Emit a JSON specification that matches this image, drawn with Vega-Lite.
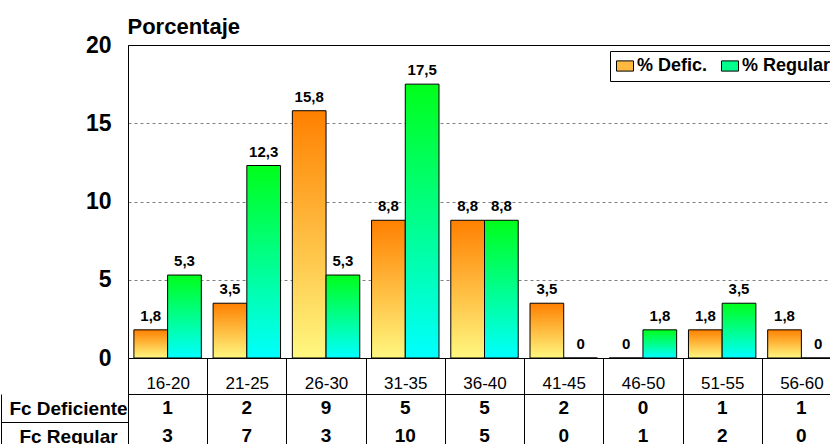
{
  "$schema": "https://vega.github.io/schema/vega-lite/v6.json",
  "background": "white",
  "padding": {"left": 0, "top": 14, "right": 0, "bottom": 0},
  "spacing": 36,
  "bounds": "flush",
  "config": {
    "font": "Liberation Sans",
    "locale": {"number": {"decimal": ",", "thousands": ".", "grouping": [3], "currency": ["", " €"]}},
    "view": {"stroke": "#000", "strokeWidth": 1}
  },
  "data": {
    "values": [
      {"edad": "16-20", "serie": "% Defic.", "fila": "Fc Deficiente", "pct": 1.8, "fc": 1},
      {"edad": "16-20", "serie": "% Regular", "fila": "Fc Regular", "pct": 5.3, "fc": 3},
      {"edad": "21-25", "serie": "% Defic.", "fila": "Fc Deficiente", "pct": 3.5, "fc": 2},
      {"edad": "21-25", "serie": "% Regular", "fila": "Fc Regular", "pct": 12.3, "fc": 7},
      {"edad": "26-30", "serie": "% Defic.", "fila": "Fc Deficiente", "pct": 15.8, "fc": 9},
      {"edad": "26-30", "serie": "% Regular", "fila": "Fc Regular", "pct": 5.3, "fc": 3},
      {"edad": "31-35", "serie": "% Defic.", "fila": "Fc Deficiente", "pct": 8.8, "fc": 5},
      {"edad": "31-35", "serie": "% Regular", "fila": "Fc Regular", "pct": 17.5, "fc": 10},
      {"edad": "36-40", "serie": "% Defic.", "fila": "Fc Deficiente", "pct": 8.8, "fc": 5},
      {"edad": "36-40", "serie": "% Regular", "fila": "Fc Regular", "pct": 8.8, "fc": 5},
      {"edad": "41-45", "serie": "% Defic.", "fila": "Fc Deficiente", "pct": 3.5, "fc": 2},
      {"edad": "41-45", "serie": "% Regular", "fila": "Fc Regular", "pct": 0, "fc": 0},
      {"edad": "46-50", "serie": "% Defic.", "fila": "Fc Deficiente", "pct": 0, "fc": 0},
      {"edad": "46-50", "serie": "% Regular", "fila": "Fc Regular", "pct": 1.8, "fc": 1},
      {"edad": "51-55", "serie": "% Defic.", "fila": "Fc Deficiente", "pct": 1.8, "fc": 1},
      {"edad": "51-55", "serie": "% Regular", "fila": "Fc Regular", "pct": 3.5, "fc": 2},
      {"edad": "56-60", "serie": "% Defic.", "fila": "Fc Deficiente", "pct": 1.8, "fc": 1},
      {"edad": "56-60", "serie": "% Regular", "fila": "Fc Regular", "pct": 0, "fc": 0}
    ]
  },
  "vconcat": [
    {
      "width": 713,
      "height": 313,
      "encoding": {
        "x": {
          "field": "edad", "type": "nominal", "sort": null,
          "scale": {"paddingInner": 0, "paddingOuter": 0},
          "axis": {
            "title": null, "orient": "bottom", "labelAngle": 0, "labelFontSize": 17,
            "labelColor": "#000", "tickBand": "extent", "tickSize": 36, "tickColor": "#000",
            "domainColor": "#000", "labelBaseline": "alphabetic", "labelPadding": -6,
            "labelOverlap": false, "labelFlush": false
          }
        },
        "xOffset": {
          "field": "serie", "type": "nominal", "sort": null,
          "scale": {"domain": ["% Defic.", "% Regular"], "paddingInner": 0, "paddingOuter": 0.175}
        },
        "y": {
          "field": "pct", "type": "quantitative",
          "scale": {"domain": [0, 20], "nice": false},
          "axis": {
            "title": "Porcentaje", "titleAngle": 0, "titleAlign": "left", "titleBaseline": "alphabetic",
            "titleX": -1, "titleY": -12, "titleFontSize": 22, "titleFontWeight": "bold", "titleColor": "#000",
            "values": [0, 5, 10, 15, 20], "ticks": false, "labelFontSize": 23, "labelFontWeight": "bold",
            "labelColor": "#000", "labelPadding": 17, "domainColor": "#000", "grid": true,
            "gridDash": [3, 3], "gridOpacity": 1,
            "gridColor": {"condition": {"test": "datum.value > 0 && datum.value < 20", "value": "#808080"}, "value": "transparent"}
          }
        }
      },
      "layer": [
        {
          "transform": [{"filter": "datum.serie === '% Defic.'"}],
          "mark": {
            "type": "bar", "stroke": "#000", "strokeWidth": 1,
            "fill": {"gradient": "linear", "x1": 0, "y1": 0, "x2": 0, "y2": 1, "stops": [{"offset": 0, "color": "#FF8000"}, {"offset": 1, "color": "#FFF880"}]}
          }
        },
        {
          "transform": [{"filter": "datum.serie === '% Regular'"}],
          "mark": {
            "type": "bar", "stroke": "#000", "strokeWidth": 1,
            "fill": {"gradient": "linear", "x1": 0, "y1": 0, "x2": 0, "y2": 1, "stops": [{"offset": 0, "color": "#00FF1A"}, {"offset": 1, "color": "#00FFFF"}]}
          }
        },
        {
          "mark": {"type": "bar", "opacity": 0},
          "encoding": {
            "color": {
              "field": "serie", "type": "nominal", "sort": null,
              "scale": {"domain": ["% Defic.", "% Regular"], "range": ["#FFB840", "#00FF8C"]},
              "legend": {
                "orient": "none", "legendX": 482, "legendY": 6, "direction": "horizontal", "title": null,
                "labelFontSize": 18, "labelFontWeight": "bold", "labelColor": "#000",
                "symbolType": "M-1,-0.6H1V0.6H-1Z", "symbolSize": 289, "symbolOpacity": 1,
                "symbolStrokeColor": "#000", "symbolStrokeWidth": 1,
                "strokeColor": "#000", "fillColor": "#fff", "padding": 6,
                "labelOffset": 3, "columnPadding": 11, "cornerRadius": 0
              }
            }
          }
        },
        {
          "mark": {"type": "text", "dy": -9, "baseline": "alphabetic", "fontSize": 15, "fontWeight": "bold", "color": "#000"},
          "encoding": {
            "text": {"field": "pct", "type": "quantitative", "format": ".1~f"}
          }
        }
      ]
    },
    {
      "width": 713,
      "height": 56,
      "layer": [
        {
          "mark": {"type": "text", "fontSize": 19, "fontWeight": "bold", "color": "#000", "baseline": "middle"},
          "encoding": {
            "x": {
              "field": "edad", "type": "nominal", "sort": null,
              "scale": {"paddingInner": 0, "paddingOuter": 0},
              "axis": {
                "orient": "top", "title": null, "labels": false, "ticks": false, "domain": false,
                "grid": true, "tickBand": "extent", "gridColor": "#000", "gridOpacity": 1, "gridWidth": 1
              }
            },
            "y": {
              "field": "fila", "type": "nominal", "sort": ["Fc Deficiente", "Fc Regular"],
              "scale": {"paddingInner": 0, "paddingOuter": 0},
              "axis": {
                "orient": "left", "title": null, "domain": false, "ticks": true, "tickBand": "extent", "tickSize": 127,
                "tickColor": {"condition": {"test": "datum.value === 'Fc Deficiente'", "value": "#000"}, "value": "transparent"},
                "labelAlign": "center", "labelBaseline": "middle", "labelPadding": -67, "labelFontSize": 19,
                "labelFontWeight": "bold", "labelColor": "#000", "grid": false
              }
            },
            "text": {"field": "fc", "type": "quantitative"}
          }
        },
        {
          "mark": {"type": "tick", "opacity": 0},
          "encoding": {
            "y": {
              "field": "fila", "type": "nominal", "sort": ["Fc Deficiente", "Fc Regular"],
              "axis": {
                "orient": "left", "offset": 127, "title": null, "domain": true, "domainColor": "#000",
                "ticks": false, "labels": false, "grid": false
              }
            }
          }
        }
      ],
      "resolve": {"axis": {"y": "independent"}}
    }
  ]
}
